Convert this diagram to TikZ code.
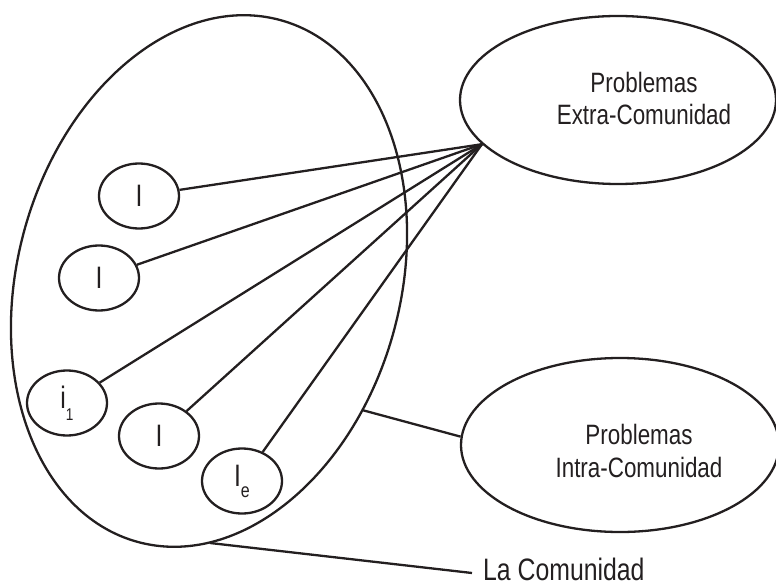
\documentclass[tikz,border=0pt]{standalone}
\usepackage{fontspec}
\setmainfont{Liberation Sans}[FakeStretch=0.8]
\usetikzlibrary{shapes.geometric}
\definecolor{ink}{RGB}{35,31,32}
\begin{document}
\begin{tikzpicture}[x=1pt,y=-1pt,
  conn/.style={draw=ink, line width=2.3pt},
  member/.style={ellipse, draw=ink, line width=2.3pt, minimum width=80pt, minimum height=65pt, inner sep=0pt, text=ink, font=\fontsize{31}{31}\selectfont},
  problem/.style={ellipse, draw=ink, line width=2.3pt, inner sep=0pt},
  ptext/.style={anchor=base, inner sep=0pt, text=ink, font=\fontsize{28}{32}\selectfont}
]
\useasboundingbox (0,0) rectangle (776,588);

% community
\node[ellipse, draw=ink, line width=2.3pt, inner sep=0pt, minimum width=383pt, minimum height=541pt, rotate=-15.3] (community) at (209,281) {};

% problem ellipses
\node[problem, minimum width=316pt, minimum height=168pt] (extra) at (618,100) {};
\node[ptext] (extraA) at (644,93) {Problemas};
\node[ptext] (extraB) at (644,125) {Extra-Comunidad};

\node[problem, minimum width=318pt, minimum height=174pt] (intra) at (620,445) {};
\node[ptext] (intraA) at (639,444) {Problemas};
\node[ptext] (intraB) at (639,477) {Intra-Comunidad};

% members
\node[member] (m1) at (139,196) {I};
\node[member] (m2) at (99,278) {I};
\node[member] (m3) at (67,403) {i\raisebox{-12pt}{\fontsize{17}{17}\selectfont 1}\hspace{20pt}};
\node[member] (m4) at (159,436) {I};
\node[member] (m5) at (242,481) {I\raisebox{-11pt}{\fontsize{20}{20}\selectfont e}};

% convergence point
\coordinate (P) at (extra.198);
\foreach \m in {m1,m2,m3,m4,m5} \draw[conn] (\m) -- (P);

% community links
\coordinate (c1) at (362,410);
\coordinate (c2) at (210,543);
\draw[conn] (c1) -- (intra.177);

\node[anchor=base west, inner sep=0pt, text=ink, font=\fontsize{31}{31}\selectfont] (lacom) at (483,580) {La Comunidad};
\draw[conn] (c2) -- ([xshift=-11pt,yshift=7pt]lacom.base west);
\end{tikzpicture}
\end{document}
